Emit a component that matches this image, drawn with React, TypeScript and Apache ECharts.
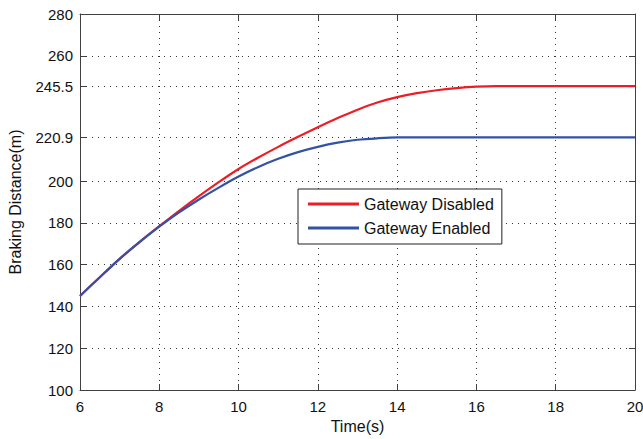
import React, { useEffect, useRef } from "react";
import * as echarts from "echarts";

const timePoints = [6, 6.5, 7, 7.5, 8, 8.5, 9, 9.5, 10, 10.5, 11, 11.5, 12, 12.5, 13, 13.5, 14, 14.5, 15, 15.5, 16, 16.5, 17, 18, 19, 20];
const disabledValues = [145, 154, 162.8, 170.8, 178.4, 185.8, 192.8, 199.5, 205.8, 211.3, 216.4, 221.2, 225.8, 230.2, 234.2, 237.6, 240.2, 242.1, 243.5, 244.5, 245.2, 245.5, 245.5, 245.5, 245.5, 245.5];
const enabledValues = [145, 154, 162.8, 170.8, 178.2, 185, 191.2, 196.9, 202.2, 206.8, 210.7, 213.9, 216.4, 218.4, 219.8, 220.5, 220.9, 220.9, 220.9, 220.9, 220.9, 220.9, 220.9, 220.9, 220.9, 220.9];
const yTicks = [100, 120, 140, 160, 180, 200, 220.9, 245.5, 260, 280];
const seriesNames = ["Gateway Disabled", "Gateway Enabled"];

export default function App() {
  const ref = useRef<HTMLDivElement>(null);
  useEffect(() => {
    if (!ref.current) return;
    const chart = echarts.init(ref.current, null, { renderer: "svg" });
    const font = "Liberation Sans, Arial, sans-serif";
    const axisLineStyle = { color: "#404040", width: 1 };
    const grid = { type: [1, 5], color: "#333", width: 1 };
    chart.setOption({
      animation: false,
      backgroundColor: "#fff",
      grid: { left: 80, right: 8, top: 14, bottom: 49, containLabel: false, outerBoundsMode: "none" },
      legend: {
        orient: "vertical",
        left: 298,
        top: 189,
        backgroundColor: "#fff",
        borderColor: "#222",
        borderWidth: 1,
        borderRadius: 0,
        padding: [6, 8, 7, 10],
        itemGap: 6,
        itemWidth: 51,
        itemHeight: 3,
        textStyle: { fontFamily: font, fontSize: 16, color: "#111", lineHeight: 18 },
        data: seriesNames.map((n) => ({ name: n, icon: "rect" })),
      },
      xAxis: [
        {
          type: "value",
          min: 6,
          max: 20,
          interval: 2,
          name: "Time(s)",
          nameLocation: "middle",
          nameGap: 28,
          nameTextStyle: { fontFamily: font, fontSize: 16, color: "#111" },
          axisLine: { show: true, lineStyle: axisLineStyle },
          axisTick: { show: true, inside: true, length: 6, lineStyle: axisLineStyle },
          axisLabel: { fontFamily: font, fontSize: 15, color: "#111", margin: 9 },
          splitLine: { show: true, lineStyle: grid },
        },
        {
          type: "value",
          position: "top",
          min: 6,
          max: 20,
          interval: 2,
          axisLine: { show: true, lineStyle: axisLineStyle },
          axisTick: { show: true, inside: true, length: 6, lineStyle: axisLineStyle },
          axisLabel: { show: false },
          splitLine: { show: false },
        },
      ],
      yAxis: [
        {
          type: "value",
          min: 100,
          max: 280,
          name: "Braking Distance(m)",
          nameLocation: "middle",
          nameGap: 57,
          nameTextStyle: { fontFamily: font, fontSize: 16, color: "#111" },
          axisLine: { show: true, lineStyle: axisLineStyle },
          axisTick: { show: true, inside: true, length: 6, lineStyle: axisLineStyle, customValues: yTicks },
          axisLabel: { fontFamily: font, fontSize: 15, color: "#111", margin: 7, customValues: yTicks, formatter: (v: number) => String(v) },
          splitLine: { show: true, lineStyle: grid },
        },
        {
          type: "value",
          position: "right",
          min: 100,
          max: 280,
          axisLine: { show: true, lineStyle: axisLineStyle },
          axisTick: { show: true, inside: true, length: 6, lineStyle: axisLineStyle, customValues: yTicks },
          axisLabel: { show: false, customValues: yTicks },
          splitLine: { show: false },
        },
      ],
      series: [
        {
          name: seriesNames[0],
          type: "line",
          symbol: "none",
          smooth: 0.3,
          color: "#ee1c25",
          lineStyle: { width: 2.2, color: "#ee1c25" },
          data: timePoints.map((t, i) => [t, disabledValues[i]]),
          z: 3,
        },
        {
          name: seriesNames[1],
          type: "line",
          symbol: "none",
          smooth: 0.3,
          color: "#3352a6",
          lineStyle: { width: 2.2, color: "#3352a6" },
          data: timePoints.map((t, i) => [t, enabledValues[i]]),
          z: 4,
        },
      ],
    });
    return () => chart.dispose();
  }, []);
  return <div ref={ref} style={{ width: 643, height: 439, position: "absolute", left: 0, top: 0 }} />;
}
